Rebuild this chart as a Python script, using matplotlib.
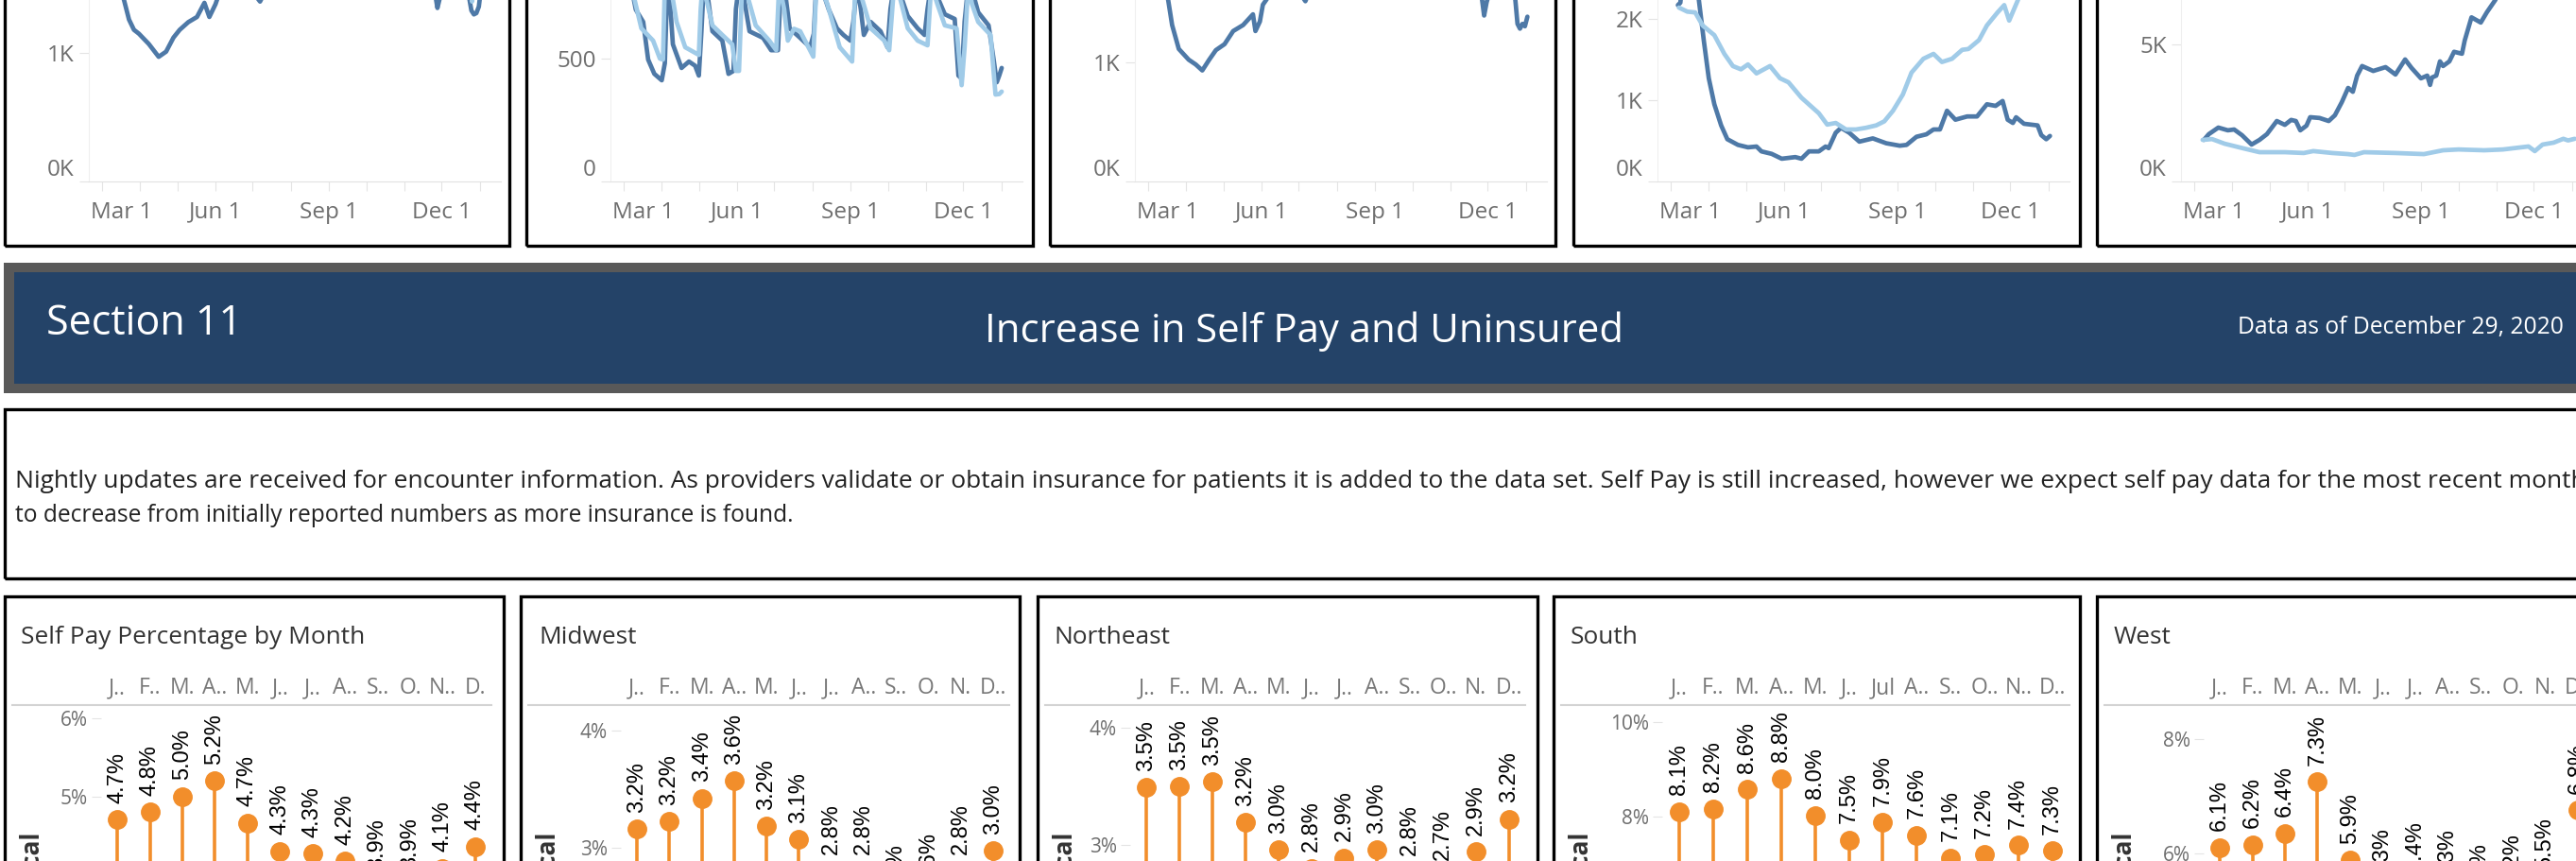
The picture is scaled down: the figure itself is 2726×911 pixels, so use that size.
import matplotlib
matplotlib.use('Agg')
import matplotlib.pyplot as plt
import matplotlib.transforms as mtransforms
from matplotlib.patches import Rectangle
from matplotlib.lines import Line2D

W, H = 2726, 911
DARK = '#4e79a7'
LIGHT = '#a0cbe8'
ORANGE = '#f28e2b'
TICK_GRAY = '#6e6e6e'

plt.rcParams['font.family'] = ['Open Sans', 'DejaVu Sans']

# ---------------- top row: daily trends (x = day of year 2020, 0 = Jan 1) ----------------
p1_dark_days = [66, 72, 78, 82, 86, 90, 98, 106, 112, 118, 123, 130, 137, 143, 147, 152, 158, 170, 180, 188,
                196, 215, 240, 270, 300, 320, 329, 331.5, 334, 337, 345, 355, 359, 361, 363, 365, 366]
p1_dark = [1.75, 1.6, 1.41, 1.26, 1.18, 1.15, 1.07, 0.97, 1.01, 1.12, 1.18, 1.24, 1.28, 1.39, 1.28, 1.38, 1.55, 1.6, 1.5, 1.40,
           1.55, 1.65, 1.7, 1.75, 1.8, 1.7, 1.5, 1.35, 1.45, 1.6, 1.6, 1.55, 1.33, 1.30, 1.31, 1.36, 1.44]
p1_light_days = [66, 100, 150, 200, 250, 300, 330, 345, 356, 359.5, 362, 366]
p1_light = [2.3, 1.9, 2.1, 2.2, 2.3, 2.4, 2.1, 2.0, 1.7, 1.40, 1.6, 1.8]

p2_dark_days = [66, 67.6, 70, 76, 80, 85, 91, 93.5, 95.5, 97, 100, 107, 113, 118, 121, 123, 125, 128, 132, 140,
                145, 149, 151, 153.5, 157, 162, 173, 179.5, 185, 186.5, 188, 191, 194.5, 203, 211, 214, 216, 220, 226, 232.7,
                238, 243.6, 246, 249, 252, 254.5, 260, 268, 273.6, 276, 279, 284, 290, 298, 303.6, 306, 309, 314, 320, 328,
                331, 333.6, 336, 339, 343, 347, 355.4, 359.5, 362, 364, 366]
p2_dark = [850, 760, 698, 648, 495, 437, 411, 480, 800, 780, 557, 461, 487, 470, 430, 600, 800, 760, 610, 572,
           437, 449, 700, 800, 760, 610, 583, 533, 533, 700, 800, 760, 622, 583, 545, 600, 800, 790, 700, 622,
           595, 572, 650, 800, 700, 595, 648, 610, 545, 700, 800, 760, 672, 622, 595, 700, 800, 750, 679, 660,
           430, 418, 650, 800, 760, 687, 634, 495, 403, 430, 461]
p2_light_days = [66, 68, 74.5, 84, 89.5, 92, 93.5, 96, 100, 103, 110, 121, 122.5, 124, 128, 132, 140, 148, 151, 153.5,
                 156, 160, 167, 178, 183.6, 186, 190, 193, 198, 203, 213.6, 216, 219, 225, 235, 245, 247.7, 252, 260, 271,
                 275, 279, 284, 290, 298, 306, 309, 314, 320, 329.5, 333.6, 336, 339, 342, 347, 357, 361, 364, 366]
p2_light = [830, 760, 622, 572, 499, 495, 800, 820, 740, 648, 545, 514, 700, 800, 720, 634, 595, 557, 449, 449,
            800, 760, 634, 572, 533, 800, 700, 572, 620, 610, 507, 780, 800, 720, 545, 487, 800, 760, 622, 572,
            533, 800, 740, 622, 572, 553, 800, 720, 634, 622, 391, 545, 800, 720, 648, 595, 353, 355, 365]

p3_dark_days = [66, 72, 76.4, 79.6, 85, 93, 98.7, 104, 109.6, 115, 122, 129, 137, 145, 147, 150.6, 153, 161, 175, 187.4,
                195, 220, 260, 300, 325, 330, 332, 334, 338, 350, 357, 359, 361, 363, 365, 367]
p3_dark = [1.9, 1.7, 1.52, 1.31, 1.11, 1.02, 0.98, 0.93, 1.02, 1.10, 1.15, 1.26, 1.31, 1.40, 1.26, 1.34, 1.48, 1.6, 1.7, 1.51,
           1.7, 1.8, 1.85, 1.9, 1.8, 1.55, 1.39, 1.5, 1.65, 1.7, 1.55, 1.32, 1.28, 1.32, 1.30, 1.38]

p4_dark_days = [66, 68, 70, 75, 80, 83, 87, 91, 95.5, 101, 106, 114.6, 122.7, 129.6, 133.6, 141.8, 150, 155.5, 161, 166,
                172, 180, 185.5, 188, 193.7, 198, 204.6, 212.8, 223.7, 234.6, 245.5, 251, 259, 267, 272.8, 278, 283.7, 290.5, 300, 308,
                316, 323, 328.7, 332.8, 337, 339.6, 346, 357, 360, 364, 367]
p4_dark = [2.17, 2.2, 2.5, 2.8, 2.6, 2.23, 1.73, 1.27, 0.95, 0.69, 0.52, 0.45, 0.42, 0.43, 0.37, 0.34, 0.28, 0.29, 0.30, 0.28,
           0.37, 0.37, 0.43, 0.41, 0.60, 0.66, 0.60, 0.49, 0.53, 0.47, 0.44, 0.45, 0.55, 0.58, 0.64, 0.64, 0.87, 0.76, 0.80, 0.80,
           0.95, 0.93, 0.99, 0.76, 0.72, 0.79, 0.71, 0.69, 0.57, 0.52, 0.56]
p4_light_days = [66.8, 73.6, 80, 86, 95.5, 103.6, 110.5, 117, 122.7, 129.6, 140.5, 148.6, 155.5, 166, 180, 186.8, 193.7, 202, 210, 218,
                 226.4, 233, 240, 248, 255, 264.6, 272.8, 279.6, 287.8, 296, 301, 309.6, 316, 324.6, 330, 334, 341, 345, 355, 366]
p4_light = [2.14, 2.09, 2.08, 1.92, 1.80, 1.57, 1.42, 1.38, 1.44, 1.33, 1.42, 1.27, 1.22, 1.03, 0.84, 0.70, 0.72, 0.64, 0.64, 0.66,
            0.69, 0.74, 0.87, 1.07, 1.34, 1.51, 1.57, 1.47, 1.51, 1.62, 1.63, 1.74, 1.92, 2.08, 2.17, 1.98, 2.23, 2.4, 2.7, 2.9]

p5_dark_days = [68, 72, 79.7, 87.4, 92.5, 98.9, 106.6, 113, 119, 127, 133.5, 138.6, 142.4, 146, 151, 154, 161.6, 169, 174, 179.6,
                184.7, 188.5, 192, 196, 205, 215, 223, 230.8, 236, 243.6, 248.7, 251, 252.5, 256, 259, 261.5, 266.6, 270.4, 276.8, 279,
                284.5, 292, 297, 303.7, 310, 320, 335, 345, 355, 366]
p5_dark = [1.52, 1.73, 1.97, 1.87, 1.90, 1.69, 1.35, 1.52, 1.73, 2.21, 2.07, 2.25, 2.21, 1.87, 2.04, 2.35, 2.32, 2.21, 2.42, 2.90,
           3.42, 3.28, 3.87, 4.22, 4.04, 4.18, 3.91, 4.46, 4.15, 3.77, 3.87, 3.53, 3.80, 3.87, 4.39, 4.22, 4.39, 4.74, 4.67, 5.15,
           6.0, 5.81, 6.19, 6.63, 7.2, 7.8, 8.2, 8.6, 9.0, 9.3]
p5_light_days = [67, 74.6, 84.8, 100, 113, 133.5, 148.8, 156.5, 171.9, 184.7, 189.8, 197.5, 223, 246, 261.5, 274, 294.8, 310,
                 330.6, 335.7, 342, 351, 358.8, 362.6, 368]
p5_light = [1.52, 1.55, 1.38, 1.21, 1.07, 1.07, 1.04, 1.11, 1.04, 1.0, 0.97, 1.07, 1.04, 1.0, 1.14, 1.17, 1.14, 1.17,
            1.28, 1.11, 1.35, 1.42, 1.56, 1.50, 1.56]

month_starts = [60, 91, 121, 152, 182, 213, 244, 274, 305, 335, 366]
month_labels = ['Mar 1', '', '', 'Jun 1', '', '', 'Sep 1', '', '', 'Dec 1', '']

# ---------------- bottom row: self pay % by month ----------------
selfpay_all = [4.7, 4.8, 5.0, 5.2, 4.66, 4.3, 4.27, 4.17, 3.86, 3.87, 4.08, 4.36]
selfpay_midwest = [3.16, 3.22, 3.42, 3.57, 3.18, 3.07, 2.8, 2.8, 2.46, 2.56, 2.8, 2.97]
selfpay_northeast = [3.49, 3.5, 3.54, 3.19, 2.96, 2.8, 2.89, 2.96, 2.77, 2.73, 2.94, 3.22]
selfpay_south = [8.11, 8.17, 8.58, 8.81, 8.03, 7.51, 7.88, 7.61, 7.13, 7.2, 7.4, 7.28]
selfpay_west = [6.11, 6.16, 6.36, 7.26, 5.89, 5.28, 5.38, 5.26, 5.0, 5.17, 5.46, 6.76]

hdr_all = ['J..', 'F..', 'M.', 'A..', 'M.', 'J..', 'J..', 'A..', 'S..', 'O.', 'N..', 'D.']
hdr_midwest = ['J..', 'F..', 'M.', 'A..', 'M.', 'J..', 'J..', 'A..', 'S..', 'O.', 'N.', 'D..']
hdr_northeast = ['J..', 'F..', 'M.', 'A..', 'M.', 'J..', 'J..', 'A..', 'S..', 'O..', 'N.', 'D..']
hdr_south = ['J..', 'F..', 'M.', 'A..', 'M.', 'J..', 'Jul', 'A..', 'S..', 'O..', 'N..', 'D..']
hdr_west = ['J..', 'F..', 'M.', 'A..', 'M.', 'J..', 'J..', 'A..', 'S..', 'O.', 'N.', 'D..']

note_line1 = ("Nightly updates are received for encounter information. As providers validate or obtain insurance "
              "for patients it is added to the data set. Self Pay is still increased, however we expect self pay "
              "data for the most recent month")
note_line2 = "to decrease from initially reported numbers as more insurance is found."

fig = plt.figure(figsize=(W / 100, H / 100), dpi=100)
renderer = fig.canvas.get_renderer()


def px_axes(x0, y0, x1, y1):
    return fig.add_axes([x0 / W, 1 - y1 / H, (x1 - x0) / W, (y1 - y0) / H])


def px_box(x0, y0, x1, y1, face='none', edge='black', lw=2.4):
    fig.add_artist(Rectangle((x0 / W, 1 - y1 / H), (x1 - x0) / W, (y1 - y0) / H, transform=fig.transFigure,
                             facecolor=face, edgecolor=edge, linewidth=lw))


def px_text(x, y, s, **kw):
    return fig.text(x / W, 1 - y / H, s, **kw)


def fit_width(t, width):
    w = t.get_window_extent(renderer).width
    t.set_fontsize(t.get_fontsize() * width / w)


# ---------------- top row ----------------
top_panels = [
    dict(box=(5, 539), ax=(94, 530), top=1.412, ticks=[0, 1], labels=['0K', '1K'],
         series=[(p1_dark_days, p1_dark, DARK), (p1_light_days, p1_light, LIGHT)]),
    dict(box=(557, 1093), ax=(646, 1082), top=737, ticks=[0, 500], labels=['0', '500'],
         series=[(p2_dark_days, p2_dark, DARK), (p2_light_days, p2_light, LIGHT)]),
    dict(box=(1111, 1646), ax=(1201, 1637), top=1.520, ticks=[0, 1], labels=['0K', '1K'],
         series=[(p3_dark_days, p3_dark, DARK)]),
    dict(box=(1665, 2201), ax=(1754, 2190), top=2.233, ticks=[0, 1, 2], labels=['0K', '1K', '2K'],
         series=[(p4_dark_days, p4_dark, DARK), (p4_light_days, p4_light, LIGHT)]),
    dict(box=(2219, 2780), ax=(2308, 2744), top=6.634, ticks=[0, 5], labels=['0K', '5K'],
         series=[(p5_dark_days, p5_dark, DARK), (p5_light_days, p5_light, LIGHT)]),
]

up = mtransforms.ScaledTranslation(0, 0.15, fig.dpi_scale_trans)
right = mtransforms.ScaledTranslation(0.21, 0, fig.dpi_scale_trans)
for p in top_panels:
    px_box(p['box'][0], -20, p['box'][1], 260)
    ax = px_axes(p['ax'][0], 0, p['ax'][1], 192)
    for days, vals, color in p['series']:
        ax.plot(days, vals, color=color, lw=3.4, solid_joinstyle='round', solid_capstyle='round')
    ax.set_xlim(49.5, 382.8)
    ax.set_ylim(0, p['top'])
    ax.set_xticks(month_starts, month_labels)
    ax.set_yticks(p['ticks'], p['labels'])
    for s in ['top', 'right']:
        ax.spines[s].set_visible(False)
    ax.spines['left'].set_color('#efefef')
    ax.spines['bottom'].set_color('#e2e2e2')
    ax.tick_params(axis='both', length=7, color='#e4e4e4', labelsize=17.5, labelcolor=TICK_GRAY)
    ax.tick_params(axis='x', pad=8)
    ax.tick_params(axis='y', pad=4)
    # Tableau keeps the first labels inside the pane
    lab0 = ax.get_yticklabels()[0]
    lab0.set_transform(lab0.get_transform() + up)
    labx = ax.get_xticklabels()[0]
    labx.set_transform(labx.get_transform() + right)

# ---------------- section header band ----------------
px_box(4, 278, 2760, 416, face='#595959', edge='none', lw=0)
px_box(15, 288, 2760, 406, face='#244368', edge='none', lw=0)
t = px_text(49, 354, 'Section 11', color='white', fontsize=28, va='baseline')
fit_width(t, 207)
t = px_text(1380.5, 362, 'Increase in Self Pay and Uninsured', color='white', fontsize=28, ha='center', va='baseline')
fit_width(t, 675)
t = px_text(2368, 353, 'Data as of December 29, 2020', color='white', fontsize=17, va='baseline')
fit_width(t, 344)

# ---------------- note box ----------------
px_box(5, 433, 2780, 612)
t1 = px_text(16, 516.5, note_line1, color='#222222', fontsize=16, va='baseline')
fit_width(t1, 2722)
t2 = px_text(16, 552, note_line2, color='#222222', fontsize=16, va='baseline')
fit_width(t2, 824)

# ---------------- bottom row ----------------
bottom_panels = [
    dict(box=(5, 533), band=(107, 520), ylim=(4.174, 6.169), yticks=[5, 6], title='Self Pay Percentage by Month',
         title_x=22, vals=selfpay_all, months=hdr_all),
    dict(box=(551, 1079), band=(657, 1068), ylim=(2.884, 4.218), yticks=[3, 4], title='Midwest',
         title_x=570, vals=selfpay_midwest, months=hdr_midwest),
    dict(box=(1098, 1627), band=(1196, 1614), ylim=(2.863, 4.194), yticks=[3, 4], title='Northeast',
         title_x=1115, vals=selfpay_northeast, months=hdr_northeast),
    dict(box=(1644, 2201), band=(1759, 2190), ylim=(7.06, 10.36), yticks=[8, 10], title='South',
         title_x=1662, vals=selfpay_south, months=hdr_south),
    dict(box=(2219, 2780), band=(2332, 2745), ylim=(5.873, 8.6), yticks=[6, 8], title='West',
         title_x=2237, vals=selfpay_west, months=hdr_west),
]

title_size = None
for p in bottom_panels:
    px_box(p['box'][0], 631, p['box'][1], 1000)
    t = px_text(p['title_x'], 681, p['title'], color='#333333', fontsize=19, va='baseline')
    if title_size is None:
        fit_width(t, 363)
        title_size = t.get_fontsize()
    else:
        t.set_fontsize(title_size)
    fig.add_artist(Line2D([(p['box'][0] + 8) / W, p['band'][1] / W], [1 - 746 / H, 1 - 746 / H],
                          transform=fig.transFigure, color='#d3d3d3', lw=1.5))
    px_text(p['box'][0] + 27, 878, 'Medical', rotation=90, rotation_mode='anchor', ha='right', va='center',
            fontsize=19, fontweight='bold', color='#333333')

    ax = px_axes(p['band'][0], 746, p['band'][1], 911)
    x = list(range(12))
    ax.vlines(x, 0, p['vals'], color=ORANGE, lw=2.6)
    ax.plot(x, p['vals'], 'o', ms=14, color=ORANGE)
    for i, v in enumerate(p['vals']):
        ax.annotate(f'{v:.1f}%', (i, v), xytext=(0, 12.5), textcoords='offset points', rotation=90,
                    rotation_mode='anchor', ha='left', va='center', fontsize=17, color='black',
                    family=['Liberation Sans'], annotation_clip=False)
    ax.set_xlim(-0.5, 11.5)
    ax.set_ylim(*p['ylim'])
    ax.xaxis.tick_top()
    ax.set_xticks(x, p['months'])
    ax.set_yticks(p['yticks'], [f'{v}%' for v in p['yticks']])
    for s in ax.spines.values():
        s.set_visible(False)
    ax.tick_params(axis='x', length=0, pad=4, labelsize=16.5, labelcolor='#777777')
    ax.tick_params(axis='y', length=7, color='#e4e4e4', pad=3, labelsize=15, labelcolor=TICK_GRAY)

fig.savefig('out.png', dpi=100)
